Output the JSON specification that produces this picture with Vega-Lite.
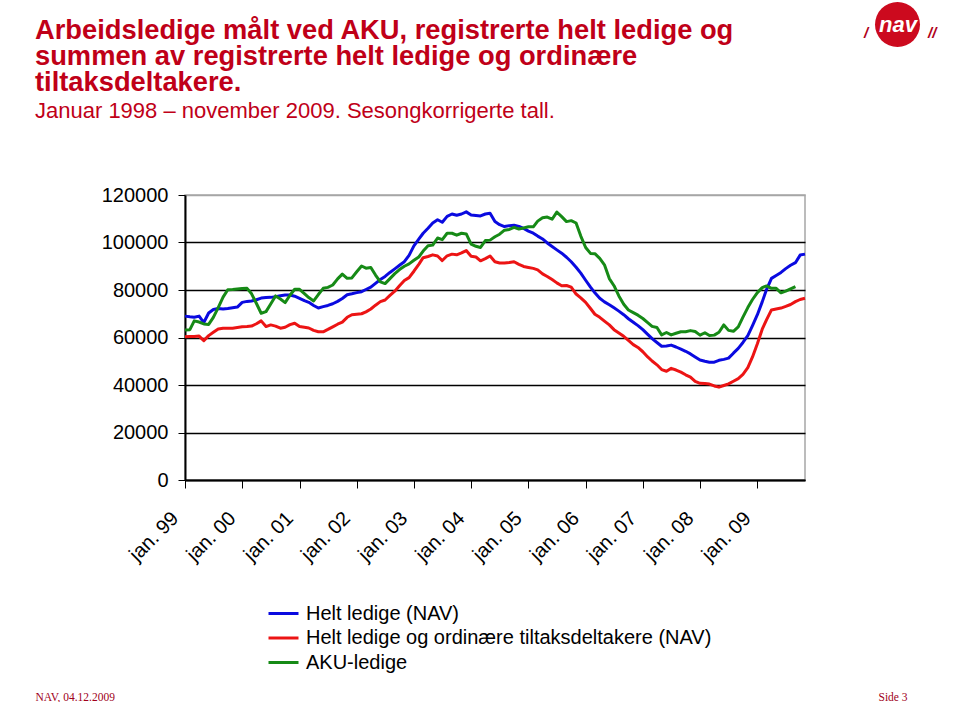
{
  "$schema": "https://vega.github.io/schema/vega-lite/v6.json",
  "width": 620,
  "height": 285,
  "autosize": {"type": "none"},
  "padding": {"left": 185, "top": 195, "right": 155, "bottom": 222},
  "background": "white",
  "config": {
    "font": "Liberation Sans",
    "view": {"stroke": "#a6a6a6", "strokeWidth": 1.5}
  },
  "title": {
    "text": ["Arbeidsledige målt ved AKU, registrerte helt ledige og", "summen av registrerte helt ledige og ordinære", "tiltaksdeltakere."],
    "subtitle": "Januar 1998 – november 2009. Sesongkorrigerte tall.",
    "anchor": "start",
    "frame": "group",
    "dx": -150,
    "offset": -120,
    "font": "Liberation Sans",
    "fontSize": 27.3,
    "fontWeight": "bold",
    "color": "#c00018",
    "lineHeight": 26,
    "subtitleFont": "Liberation Sans",
    "subtitleFontSize": 22,
    "subtitleColor": "#c00018",
    "subtitlePadding": 5
  },
  "layer": [
    {
      "data": {
        "values": [
          {"maaned": "1999-01", "helt": 69000, "sum": 60300, "aku": 63200},
          {"maaned": "1999-02", "helt": 68700, "sum": 60400, "aku": 63300},
          {"maaned": "1999-03", "helt": 68500, "sum": 60400, "aku": 67000},
          {"maaned": "1999-04", "helt": 69000, "sum": 60600, "aku": 66500},
          {"maaned": "1999-05", "helt": 66300, "sum": 58700, "aku": 65700},
          {"maaned": "1999-06", "helt": 70300, "sum": 60800, "aku": 65500},
          {"maaned": "1999-07", "helt": 71800, "sum": 62200, "aku": 68500},
          {"maaned": "1999-08", "helt": 72200, "sum": 63600, "aku": 72600},
          {"maaned": "1999-09", "helt": 72000, "sum": 63900, "aku": 77000},
          {"maaned": "1999-10", "helt": 72200, "sum": 63900, "aku": 80100},
          {"maaned": "1999-11", "helt": 72500, "sum": 63900, "aku": 80200},
          {"maaned": "1999-12", "helt": 72800, "sum": 64200, "aku": 80400},
          {"maaned": "2000-01", "helt": 74800, "sum": 64500, "aku": 80600},
          {"maaned": "2000-02", "helt": 75200, "sum": 64600, "aku": 80700},
          {"maaned": "2000-03", "helt": 75400, "sum": 64800, "aku": 78400},
          {"maaned": "2000-04", "helt": 75900, "sum": 65800, "aku": 74300},
          {"maaned": "2000-05", "helt": 76600, "sum": 67000, "aku": 70200},
          {"maaned": "2000-06", "helt": 76800, "sum": 64600, "aku": 70900},
          {"maaned": "2000-07", "helt": 76900, "sum": 65300, "aku": 74100},
          {"maaned": "2000-08", "helt": 77200, "sum": 64800, "aku": 77500},
          {"maaned": "2000-09", "helt": 77600, "sum": 63900, "aku": 76200},
          {"maaned": "2000-10", "helt": 77900, "sum": 64300, "aku": 74700},
          {"maaned": "2000-11", "helt": 77900, "sum": 65400, "aku": 77800},
          {"maaned": "2000-12", "helt": 77400, "sum": 66000, "aku": 80300},
          {"maaned": "2001-01", "helt": 76500, "sum": 64600, "aku": 80300},
          {"maaned": "2001-02", "helt": 75500, "sum": 64300, "aku": 78500},
          {"maaned": "2001-03", "helt": 74800, "sum": 64000, "aku": 76800},
          {"maaned": "2001-04", "helt": 73500, "sum": 63000, "aku": 75400},
          {"maaned": "2001-05", "helt": 72400, "sum": 62400, "aku": 78100},
          {"maaned": "2001-06", "helt": 73000, "sum": 62400, "aku": 80700},
          {"maaned": "2001-07", "helt": 73500, "sum": 63400, "aku": 81100},
          {"maaned": "2001-08", "helt": 74200, "sum": 64500, "aku": 82100},
          {"maaned": "2001-09", "helt": 75200, "sum": 65600, "aku": 84700},
          {"maaned": "2001-10", "helt": 76400, "sum": 66500, "aku": 86700},
          {"maaned": "2001-11", "helt": 78000, "sum": 68500, "aku": 84900},
          {"maaned": "2001-12", "helt": 78400, "sum": 69600, "aku": 85100},
          {"maaned": "2002-01", "helt": 78900, "sum": 69800, "aku": 87700},
          {"maaned": "2002-02", "helt": 79300, "sum": 70000, "aku": 90100},
          {"maaned": "2002-03", "helt": 80200, "sum": 70800, "aku": 89200},
          {"maaned": "2002-04", "helt": 81200, "sum": 72000, "aku": 89500},
          {"maaned": "2002-05", "helt": 82800, "sum": 73600, "aku": 86300},
          {"maaned": "2002-06", "helt": 84400, "sum": 75100, "aku": 83400},
          {"maaned": "2002-07", "helt": 85700, "sum": 75800, "aku": 82700},
          {"maaned": "2002-08", "helt": 87400, "sum": 77700, "aku": 84800},
          {"maaned": "2002-09", "helt": 88900, "sum": 79500, "aku": 86900},
          {"maaned": "2002-10", "helt": 90400, "sum": 81800, "aku": 88600},
          {"maaned": "2002-11", "helt": 91900, "sum": 84000, "aku": 90000},
          {"maaned": "2002-12", "helt": 94600, "sum": 85200, "aku": 91000},
          {"maaned": "2003-01", "helt": 98600, "sum": 87900, "aku": 92500},
          {"maaned": "2003-02", "helt": 101400, "sum": 90800, "aku": 93900},
          {"maaned": "2003-03", "helt": 103900, "sum": 93600, "aku": 96400},
          {"maaned": "2003-04", "helt": 106000, "sum": 94100, "aku": 98600},
          {"maaned": "2003-05", "helt": 108200, "sum": 94800, "aku": 98900},
          {"maaned": "2003-06", "helt": 109600, "sum": 94300, "aku": 101900},
          {"maaned": "2003-07", "helt": 108500, "sum": 92400, "aku": 101200},
          {"maaned": "2003-08", "helt": 111000, "sum": 94400, "aku": 103900},
          {"maaned": "2003-09", "helt": 112000, "sum": 95100, "aku": 103900},
          {"maaned": "2003-10", "helt": 111500, "sum": 94800, "aku": 103100},
          {"maaned": "2003-11", "helt": 112000, "sum": 95600, "aku": 103900},
          {"maaned": "2003-12", "helt": 112900, "sum": 96600, "aku": 103600},
          {"maaned": "2004-01", "helt": 111600, "sum": 94200, "aku": 99300},
          {"maaned": "2004-02", "helt": 111400, "sum": 93900, "aku": 98400},
          {"maaned": "2004-03", "helt": 111200, "sum": 92300, "aku": 97900},
          {"maaned": "2004-04", "helt": 112000, "sum": 93200, "aku": 100800},
          {"maaned": "2004-05", "helt": 112300, "sum": 94300, "aku": 101000},
          {"maaned": "2004-06", "helt": 108800, "sum": 91900, "aku": 102400},
          {"maaned": "2004-07", "helt": 107500, "sum": 91400, "aku": 103500},
          {"maaned": "2004-08", "helt": 106700, "sum": 91400, "aku": 105200},
          {"maaned": "2004-09", "helt": 107100, "sum": 91600, "aku": 105500},
          {"maaned": "2004-10", "helt": 107300, "sum": 91900, "aku": 106400},
          {"maaned": "2004-11", "helt": 106800, "sum": 90800, "aku": 105700},
          {"maaned": "2004-12", "helt": 105900, "sum": 89900, "aku": 106100},
          {"maaned": "2005-01", "helt": 104800, "sum": 89500, "aku": 106600},
          {"maaned": "2005-02", "helt": 103900, "sum": 89100, "aku": 106600},
          {"maaned": "2005-03", "helt": 102700, "sum": 88500, "aku": 109000},
          {"maaned": "2005-04", "helt": 101500, "sum": 86800, "aku": 110400},
          {"maaned": "2005-05", "helt": 99800, "sum": 85700, "aku": 110700},
          {"maaned": "2005-06", "helt": 98300, "sum": 84400, "aku": 109800},
          {"maaned": "2005-07", "helt": 96900, "sum": 83000, "aku": 112800},
          {"maaned": "2005-08", "helt": 95500, "sum": 81800, "aku": 110900},
          {"maaned": "2005-09", "helt": 93800, "sum": 81900, "aku": 108800},
          {"maaned": "2005-10", "helt": 91900, "sum": 81200, "aku": 109200},
          {"maaned": "2005-11", "helt": 89600, "sum": 78300, "aku": 108200},
          {"maaned": "2005-12", "helt": 87100, "sum": 76700, "aku": 102700},
          {"maaned": "2006-01", "helt": 84100, "sum": 74800, "aku": 97900},
          {"maaned": "2006-02", "helt": 81200, "sum": 72200, "aku": 95400},
          {"maaned": "2006-03", "helt": 78800, "sum": 69800, "aku": 95300},
          {"maaned": "2006-04", "helt": 76500, "sum": 68500, "aku": 93300},
          {"maaned": "2006-05", "helt": 75000, "sum": 66900, "aku": 90600},
          {"maaned": "2006-06", "helt": 73800, "sum": 65300, "aku": 84800},
          {"maaned": "2006-07", "helt": 72500, "sum": 63300, "aku": 81800},
          {"maaned": "2006-08", "helt": 71100, "sum": 61900, "aku": 77500},
          {"maaned": "2006-09", "helt": 69600, "sum": 60500, "aku": 74000},
          {"maaned": "2006-10", "helt": 67900, "sum": 58800, "aku": 71600},
          {"maaned": "2006-11", "helt": 66400, "sum": 57000, "aku": 70500},
          {"maaned": "2006-12", "helt": 65000, "sum": 55800, "aku": 69400},
          {"maaned": "2007-01", "helt": 63300, "sum": 54000, "aku": 68000},
          {"maaned": "2007-02", "helt": 61300, "sum": 51800, "aku": 66300},
          {"maaned": "2007-03", "helt": 59500, "sum": 50100, "aku": 64700},
          {"maaned": "2007-04", "helt": 57900, "sum": 48500, "aku": 64200},
          {"maaned": "2007-05", "helt": 56300, "sum": 46500, "aku": 61100},
          {"maaned": "2007-06", "helt": 56400, "sum": 45800, "aku": 62100},
          {"maaned": "2007-07", "helt": 56800, "sum": 47000, "aku": 61100},
          {"maaned": "2007-08", "helt": 56000, "sum": 46300, "aku": 61800},
          {"maaned": "2007-09", "helt": 55100, "sum": 45400, "aku": 62400},
          {"maaned": "2007-10", "helt": 54200, "sum": 44300, "aku": 62400},
          {"maaned": "2007-11", "helt": 53100, "sum": 43300, "aku": 62900},
          {"maaned": "2007-12", "helt": 51800, "sum": 41500, "aku": 62500},
          {"maaned": "2008-01", "helt": 50500, "sum": 40700, "aku": 61000},
          {"maaned": "2008-02", "helt": 50000, "sum": 40600, "aku": 62000},
          {"maaned": "2008-03", "helt": 49600, "sum": 40400, "aku": 60800},
          {"maaned": "2008-04", "helt": 49600, "sum": 39600, "aku": 61000},
          {"maaned": "2008-05", "helt": 50400, "sum": 39100, "aku": 62200},
          {"maaned": "2008-06", "helt": 50800, "sum": 39800, "aku": 65300},
          {"maaned": "2008-07", "helt": 51300, "sum": 40500, "aku": 63000},
          {"maaned": "2008-08", "helt": 53400, "sum": 41600, "aku": 62600},
          {"maaned": "2008-09", "helt": 55400, "sum": 42700, "aku": 64500},
          {"maaned": "2008-10", "helt": 57900, "sum": 44500, "aku": 68600},
          {"maaned": "2008-11", "helt": 60800, "sum": 47300, "aku": 72600},
          {"maaned": "2008-12", "helt": 65000, "sum": 51800, "aku": 76000},
          {"maaned": "2009-01", "helt": 69600, "sum": 57400, "aku": 78900},
          {"maaned": "2009-02", "helt": 75000, "sum": 63500, "aku": 81000},
          {"maaned": "2009-03", "helt": 80300, "sum": 67500, "aku": 81700},
          {"maaned": "2009-04", "helt": 84900, "sum": 71600, "aku": 80700},
          {"maaned": "2009-05", "helt": 86100, "sum": 72000, "aku": 80700},
          {"maaned": "2009-06", "helt": 87400, "sum": 72400, "aku": 78800},
          {"maaned": "2009-07", "helt": 89000, "sum": 73100, "aku": 79500},
          {"maaned": "2009-08", "helt": 90400, "sum": 73900, "aku": 80500},
          {"maaned": "2009-09", "helt": 91500, "sum": 75100, "aku": 81400},
          {"maaned": "2009-10", "helt": 94700, "sum": 76000},
          {"maaned": "2009-11", "helt": 95100, "sum": 76500}
        ]
      },
      "transform": [
        {"fold": ["helt", "sum", "aku"], "as": ["serie", "antall"]},
        {"filter": "isValid(datum.antall)"}
      ],
      "mark": {"type": "line", "strokeWidth": 3, "strokeJoin": "round"},
      "encoding": {
        "x": {
          "field": "maaned",
          "type": "temporal",
          "scale": {
            "type": "utc",
            "domain": [
              {"year": 1999, "month": 1, "date": 1, "utc": true},
              {"year": 2009, "month": 11, "date": 1, "utc": true}
            ]
          },
          "axis": {
            "title": "NAV, 04.12.2009",
            "titleX": -150,
            "titleY": 220,
            "titleAlign": "left",
            "titleAnchor": "start",
            "titleBaseline": "alphabetic",
            "titleFont": "Liberation Serif",
            "titleFontSize": 11.5,
            "titleFontWeight": "normal",
            "titleColor": "#a0001a",
            "values": [
              {"year": 1999, "month": 1, "date": 1, "utc": true},
              {"year": 2000, "month": 1, "date": 1, "utc": true},
              {"year": 2001, "month": 1, "date": 1, "utc": true},
              {"year": 2002, "month": 1, "date": 1, "utc": true},
              {"year": 2003, "month": 1, "date": 1, "utc": true},
              {"year": 2004, "month": 1, "date": 1, "utc": true},
              {"year": 2005, "month": 1, "date": 1, "utc": true},
              {"year": 2006, "month": 1, "date": 1, "utc": true},
              {"year": 2007, "month": 1, "date": 1, "utc": true},
              {"year": 2008, "month": 1, "date": 1, "utc": true},
              {"year": 2009, "month": 1, "date": 1, "utc": true}
            ],
            "labelExpr": "'jan. ' + utcFormat(datum.value, '%y')",
            "labelAngle": -45,
            "labelAlign": "right",
            "labelBaseline": "middle",
            "labelFontSize": 20,
            "labelColor": "black",
            "labelPadding": 27,
            "labelOffset": -10,
            "labelFlush": false,
            "labelOverlap": false,
            "labelBound": false,
            "tickSize": 8,
            "tickColor": "black",
            "tickWidth": 1,
            "domainColor": "black",
            "domainWidth": 2,
            "grid": false
          }
        },
        "y": {
          "field": "antall",
          "type": "quantitative",
          "scale": {"domain": [0, 120000], "nice": false, "zero": true},
          "axis": {
            "title": "Side 3",
            "titleAngle": 0,
            "titleX": 693,
            "titleY": 505,
            "titleAlign": "left",
            "titleBaseline": "alphabetic",
            "titleFont": "Liberation Serif",
            "titleFontSize": 11.5,
            "titleFontWeight": "normal",
            "titleColor": "#a0001a",
            "values": [0, 20000, 40000, 60000, 80000, 100000, 120000],
            "format": "d",
            "labelFontSize": 20,
            "labelColor": "black",
            "labelPadding": 10,
            "tickSize": 7,
            "tickColor": "black",
            "domainColor": "black",
            "domainWidth": 2,
            "grid": true,
            "gridColor": {"condition": {"test": "datum.value === 120000", "value": "#a6a6a6"}, "value": "black"},
            "gridWidth": 1.5,
            "gridOpacity": 1
          }
        },
        "color": {
          "field": "serie",
          "type": "nominal",
          "scale": {"domain": ["helt", "sum", "aku"], "range": ["#0a0ae0", "#ec1414", "#168a16"]},
          "legend": {
            "orient": "none",
            "legendX": 85,
            "legendY": 405,
            "title": null,
            "labelExpr": "datum.value == 'helt' ? 'Helt ledige (NAV)' : datum.value == 'sum' ? 'Helt ledige og ordinære tiltaksdeltakere (NAV)' : 'AKU-ledige'",
            "labelFontSize": 20,
            "labelColor": "black",
            "labelLimit": 0,
            "symbolType": "M-1.25,0H1.25",
            "symbolSize": 576,
            "symbolStrokeWidth": 3,
            "labelOffset": 9,
            "rowPadding": 0.5
          }
        }
      }
    },
    {
      "data": {"values": [{"logo": "nav", "deco": "/"}, {"logo": "nav", "deco": "//"}]},
      "mark": {"type": "point", "opacity": 0, "filled": true, "color": "#cc0a1e"},
      "encoding": {
        "shape": {
          "field": "logo",
          "type": "nominal",
          "scale": {"range": ["circle"]},
          "legend": {
            "orient": "none",
            "legendX": 690,
            "legendY": -193,
            "title": null,
            "symbolSize": 2025,
            "symbolFillColor": "#cc0a1e",
            "symbolStrokeColor": "#cc0a1e",
            "symbolOpacity": 1,
            "symbolStrokeWidth": 0,
            "labelOffset": -22,
            "labelAlign": "center",
            "labelColor": "white",
            "labelFontSize": 22,
            "labelFontWeight": "bold",
            "labelFontStyle": "italic"
          }
        },
        "size": {
          "field": "deco",
          "type": "ordinal",
          "scale": {"domain": ["/", "//"], "range": [1, 1]},
          "legend": {
            "orient": "none",
            "legendX": 664,
            "legendY": -170,
            "title": null,
            "direction": "horizontal",
            "symbolOpacity": 0,
            "symbolStrokeWidth": 0,
            "labelOffset": 0,
            "columnPadding": 44,
            "labelColor": "#b0001a",
            "labelFontSize": 15,
            "labelFontWeight": "bold",
            "labelFontStyle": "italic"
          }
        }
      }
    }
  ]
}
